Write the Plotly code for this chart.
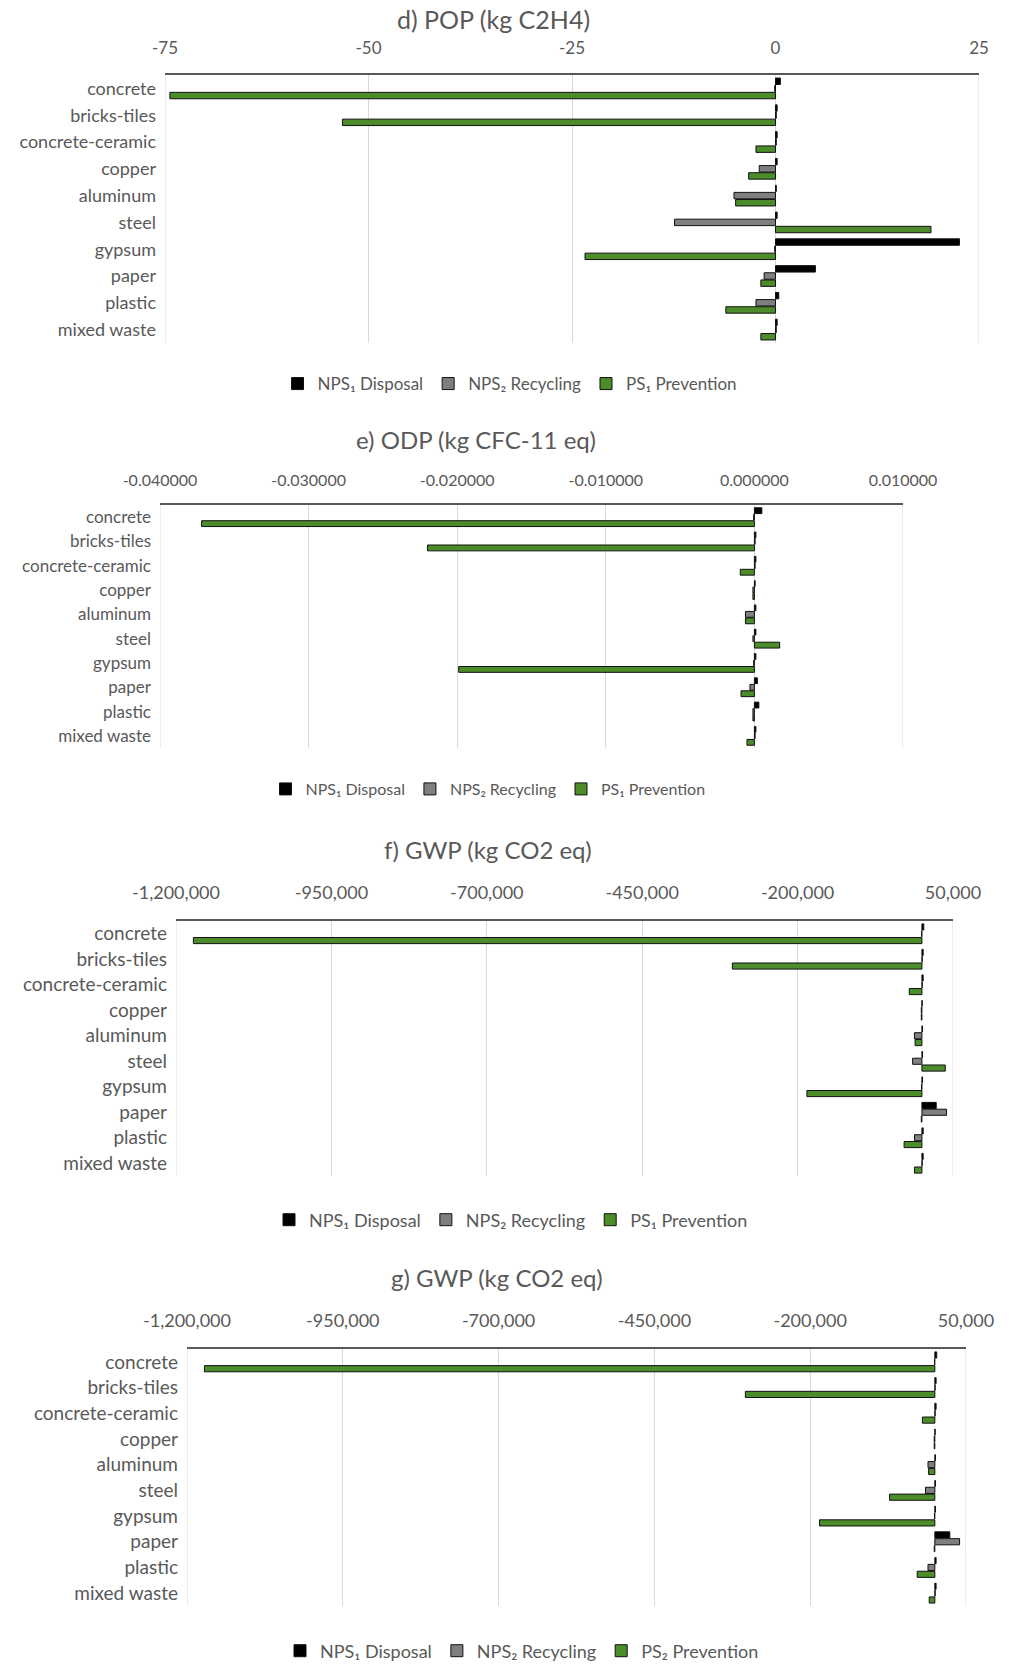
import plotly.graph_objects as go

W, H = 1009, 1665

categories = ["concrete", "bricks-tiles", "concrete-ceramic", "copper", "aluminum",
              "steel", "gypsum", "paper", "plastic", "mixed waste"]

# d) POP (kg C2H4)
pop_disposal = [0.6, 0.2, 0.2, 0.2, 0.1, 0.2, 22.6, 4.9, 0.4, 0.2]
pop_recycling = [-0.1, 0.1, 0.1, -2.0, -5.1, -12.4, -0.1, -1.4, -2.4, 0.1]
pop_prevention = [-74.4, -53.2, -2.4, -3.3, -4.9, 19.1, -23.4, -1.8, -6.1, -1.8]
pop_ticks = [-75, -50, -25, 0, 25]
pop_ticklabels = ["-75", "-50", "-25", "0", "25"]

# e) ODP (kg CFC-11 eq)
odp_disposal = [0.0005, 0.0001, 0.0001, 0.00005, 0.0001, 0.0001, 0.0001, 0.0002, 0.0003, 0.0001]
odp_recycling = [-0.00005, 0.00005, 0.00005, -0.0001, -0.0006, -0.0001, -0.00005, -0.0003, -0.0001, 0.00005]
odp_prevention = [-0.0372, -0.0220, -0.00095, -0.0001, -0.0006, 0.0017, -0.0199, -0.0009, -0.0001, -0.0005]
odp_ticks = [-0.04, -0.03, -0.02, -0.01, 0.0, 0.01]
odp_ticklabels = ["-0.040000", "-0.030000", "-0.020000", "-0.010000", "0.000000", "0.010000"]

# f) GWP (kg CO2 eq), PS1 prevention
gwpf_disposal = [3000, 2000, 2000, 500, 1000, 1000, 1000, 23000, 2000, 2000]
gwpf_recycling = [-500, 500, 500, -1000, -12000, -15000, -500, 39600, -12000, 500]
gwpf_prevention = [-1172000, -305000, -20400, -1000, -11000, 37600, -185000, -1000, -28700, -12000]

# g) GWP (kg CO2 eq), PS2 prevention
gwpg_disposal = [3000, 2000, 2000, 500, 1000, 1000, 1000, 24000, 2000, 2000]
gwpg_recycling = [-500, 500, 500, -1000, -11000, -15000, -500, 39700, -11000, 500]
gwpg_prevention = [-1172000, -304000, -20000, -1000, -10000, -72600, -185000, -1000, -28300, -9000]

gwp_ticks = [-1200000, -950000, -700000, -450000, -200000, 50000]
gwp_ticklabels = ["-1,200,000", "-950,000", "-700,000", "-450,000", "-200,000", "50,000"]

series_names = ["NPS\u2081 Disposal", "NPS\u2082 Recycling"]
prevention_names = ["PS\u2081 Prevention", "PS\u2081 Prevention", "PS\u2081 Prevention", "PS\u2082 Prevention"]

FONT = "Lato"
TEXT = "#595959"
GRID = "#d9d9d9"
fills = ["#000000", "#7f7f7f", "#4c8c2b"]

panels = [
    dict(title="d) POP (kg C2H4)", data=[pop_disposal, pop_recycling, pop_prevention],
         ticks=pop_ticks, labels=pop_ticklabels, rng=[-75, 25],
         px=(165, 979), py=(75, 343), ty=19, tx=493, ly=384, lx=510,
         cat=18, tick=17, std=12, leg=17, tsize=25),
    dict(title="e) ODP (kg CFC-11 eq)", data=[odp_disposal, odp_recycling, odp_prevention],
         ticks=odp_ticks, labels=odp_ticklabels, rng=[-0.04, 0.01],
         px=(160, 903), py=(505, 748), ty=439, tx=476, ly=789, lx=488,
         cat=17, tick=16, std=11, leg=16, tsize=24),
    dict(title="f) GWP (kg CO2 eq)", data=[gwpf_disposal, gwpf_recycling, gwpf_prevention],
         ticks=gwp_ticks, labels=gwp_ticklabels, rng=[-1200000, 50000],
         px=(176, 953), py=(921, 1176), ty=849, tx=488, ly=1220, lx=511,
         cat=19, tick=18, std=13, leg=18, tsize=24),
    dict(title="g) GWP (kg CO2 eq)", data=[gwpg_disposal, gwpg_recycling, gwpg_prevention],
         ticks=gwp_ticks, labels=gwp_ticklabels, rng=[-1200000, 50000],
         px=(187, 966), py=(1349, 1606), ty=1277, tx=497, ly=1651, lx=522,
         cat=19, tick=18, std=13, leg=18, tsize=24),
]

fig = go.Figure()
annotations = []
shapes = []
layout = {}

for i, p in enumerate(panels):
    n = i + 1
    xa = "x" if n == 1 else f"x{n}"
    ya = "y" if n == 1 else f"y{n}"
    leg = "legend" if n == 1 else f"legend{n}"
    names = series_names + [prevention_names[i]]
    for values, name, fill in zip(p["data"], names, fills):
        fig.add_trace(go.Bar(
            y=categories, x=values, name=name, orientation="h",
            xaxis=xa, yaxis=ya, legend=leg,
            marker=dict(color=fill, line=dict(color="#111111", width=1)),
        ))
    lo, hi = p["rng"]
    # gridlines on the two outer ticks, which sit on the plot edges
    for edge in (lo, hi):
        shapes.append(dict(
            type="line", xref=xa, yref=f"{ya} domain", x0=edge, x1=edge, y0=0, y1=1,
            line=dict(color=GRID, width=1), layer="below",
        ))
    xkey = "xaxis" if n == 1 else f"xaxis{n}"
    ykey = "yaxis" if n == 1 else f"yaxis{n}"
    layout[xkey] = dict(
        domain=[p["px"][0] / W, p["px"][1] / W], anchor=ya, side="top",
        range=[lo, hi], tickmode="array", tickvals=p["ticks"], ticktext=p["labels"],
        showgrid=True, gridcolor=GRID, gridwidth=1, zeroline=False,
        showline=True, linecolor="#595959", linewidth=2, mirror=False,
        ticks="", ticklabelstandoff=p["std"], automargin=False,
        tickfont=dict(family=FONT, size=p["tick"], color=TEXT), fixedrange=True,
    )
    layout[ykey] = dict(
        domain=[1 - p["py"][1] / H, 1 - p["py"][0] / H], anchor=xa,
        autorange="reversed", showgrid=False, zeroline=False, showline=False,
        ticks="", ticklabelstandoff=8, automargin=False,
        tickfont=dict(family=FONT, size=p["cat"], color=TEXT), fixedrange=True,
    )
    layout[leg] = dict(
        orientation="h", x=p["lx"] / W, y=1 - p["ly"] / H,
        xanchor="center", yanchor="middle", traceorder="normal",
        itemwidth=30, tracegroupgap=0,
        font=dict(family=FONT, size=p["leg"], color=TEXT), bgcolor="rgba(0,0,0,0)",
    )
    annotations.append(dict(
        text=p["title"], x=p["tx"] / W, y=1 - p["ty"] / H, xref="paper", yref="paper",
        xanchor="center", yanchor="middle", showarrow=False,
        font=dict(family=FONT, size=p["tsize"], color=TEXT),
    ))

fig.update_layout(
    width=W, height=H, margin=dict(l=0, r=0, t=0, b=0, autoexpand=False),
    paper_bgcolor="white", plot_bgcolor="white",
    barmode="group", bargap=0.2, bargroupgap=0.1,
    annotations=annotations, shapes=shapes, font=dict(family=FONT, color=TEXT),
    **layout,
)

fig.write_html("out.html")
